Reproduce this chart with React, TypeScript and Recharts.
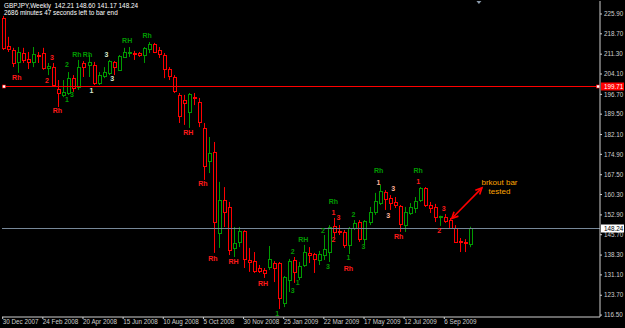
import { Bar, ComposedChart, ReferenceDot, ReferenceLine, XAxis, YAxis } from "recharts";

// weekly GBPJPY candles, 30 Dec 2007 .. Oct 2009
const openP = [
  224.4, 214.3, 212.8, 208.5, 211.7, 209.6, 208.5, 211.0, 211.7, 206.3,
  206.6, 198.7, 196.5, 197.2, 202.6, 199.4, 208.1, 207.4, 207.4, 200.8,
  203.4, 204.5, 208.5, 205.6, 210.3, 211.7, 211.7, 211.7, 211.0, 213.2,
  215.0, 212.8, 211.0, 205.9, 203.0, 196.5, 194.7, 190.3, 195.7, 193.9,
  184.5, 172.5, 175.8, 146.3, 158.3, 155.8, 140.9, 143.1, 147.1, 136.5,
  136.1, 133.6, 132.9, 134.0, 135.4, 135.4, 120.9, 129.2, 136.5, 130.3,
  134.7, 139.1, 138.7, 136.5, 138.3, 139.4, 148.9, 147.1, 146.7, 142.0,
  148.1, 150.3, 144.1, 150.3, 154.0, 157.2, 161.2, 159.0, 157.6, 156.1,
  149.2, 153.6, 155.4, 158.3, 162.7, 156.5, 155.8, 152.3, 152.1, 151.0,
  148.1, 143.4, 143.1, 142.21,
];
const highP = [
  225.2, 217.6, 213.6, 213.9, 213.6, 212.1, 213.9, 212.1, 213.6, 208.1,
  208.1, 201.9, 201.9, 204.8, 203.7, 209.2, 208.8, 211.0, 208.5, 204.8,
  206.6, 209.2, 208.8, 211.0, 213.6, 213.9, 212.5, 212.1, 213.9, 215.7,
  215.4, 213.9, 211.7, 206.6, 203.7, 197.2, 196.5, 197.2, 197.2, 195.4,
  186.3, 181.2, 179.4, 164.9, 163.0, 157.6, 148.5, 148.5, 147.3, 140.9,
  139.4, 134.7, 133.6, 141.6, 136.1, 135.8, 130.7, 136.9, 137.6, 135.8,
  142.0, 141.2, 139.1, 139.8, 145.6, 149.2, 151.8, 149.2, 147.4, 148.5,
  151.0, 151.0, 151.0, 155.8, 160.9, 163.8, 161.9, 160.1, 159.4, 156.5,
  155.8, 157.2, 159.4, 163.0, 163.0, 157.6, 156.9, 152.6, 153.2, 151.8,
  149.2, 144.5, 144.1, 148.6,
];
const lowP = [
  212.8, 212.1, 206.6, 204.5, 208.1, 205.9, 206.6, 208.1, 205.6, 203.7,
  199.4, 192.1, 195.7, 196.5, 197.6, 198.3, 203.0, 203.0, 200.1, 200.1,
  202.6, 203.7, 203.7, 205.2, 209.9, 210.3, 209.2, 210.3, 208.1, 211.7,
  211.7, 209.9, 202.6, 201.9, 197.2, 186.3, 185.6, 184.5, 192.8, 184.8,
  165.6, 168.1, 139.1, 140.9, 148.5, 138.3, 137.6, 141.2, 133.6, 132.2,
  131.8, 131.8, 130.0, 132.9, 128.5, 118.7, 119.4, 124.9, 128.2, 129.2,
  134.0, 135.4, 131.8, 134.7, 136.5, 135.8, 144.9, 145.6, 140.9, 138.7,
  147.4, 143.1, 142.0, 149.2, 152.9, 156.5, 154.7, 154.7, 155.4, 146.7,
  146.7, 152.9, 153.6, 157.6, 155.8, 153.6, 150.3, 148.9, 150.0, 147.8,
  142.7, 139.4, 139.4, 141.17,
];
const closeP = [
  213.6, 213.2, 208.1, 212.1, 209.2, 208.5, 211.4, 210.6, 206.3, 207.0,
  200.1, 197.2, 197.6, 202.6, 199.0, 206.6, 206.6, 208.5, 200.8, 203.7,
  204.8, 208.8, 206.6, 210.6, 212.1, 212.1, 211.4, 211.0, 213.6, 215.0,
  212.1, 211.4, 205.9, 203.4, 197.9, 188.8, 193.6, 196.8, 195.4, 186.7,
  170.7, 175.4, 150.3, 158.3, 154.0, 140.1, 142.7, 147.1, 136.9, 135.8,
  132.5, 132.6, 131.8, 136.9, 133.6, 122.7, 130.3, 136.1, 132.2, 134.3,
  139.4, 138.3, 136.9, 138.7, 140.5, 148.5, 146.7, 146.7, 142.0, 148.1,
  150.0, 144.1, 150.7, 154.0, 158.0, 161.6, 158.7, 157.2, 156.5, 149.6,
  154.0, 155.8, 158.0, 162.7, 156.5, 155.4, 152.1, 152.5, 150.7, 148.1,
  143.1, 143.1, 142.7, 148.24,
];

const dateTicks = [0, 8, 16, 24, 32, 40, 48, 56, 64, 72, 80, 88];
const dateLabels = [
  "30 Dec 2007", "24 Feb 2008", "20 Apr 2008", "15 Jun 2008", "10 Aug 2008", "5 Oct 2008",
  "30 Nov 2008", "25 Jan 2009", "22 Mar 2009", "17 May 2009", "12 Jul 2009", "6 Sep 2009",
];
const priceTicks = [
  225.9, 218.7, 211.3, 204.1, 196.7, 189.5, 182.1, 174.9, 167.5, 160.3, 152.9, 145.7, 138.3, 131.1, 123.7, 116.5,
];

const breakoutLevel = 199.71;
const bidLevel = 148.24;

// swing labels: text, bar position, price, colour key
const markTexts = [
  "Rh", "3", "2", "Rh", "2", "Rh", "Rh", "1", "3", "1", "3", "3", "RH", "Rh", "RH",
  "Rh", "Rh", "RH", "RH", "1", "2", "RH", "1", "3", "2", "3", "Rh", "1", "3", "2",
  "2", "1", "3", "Rh", "Rh", "1", "3", "3", "Rh", "Rh", "1", "3", "2",
];
const markBars = [
  2.8, 9.8, 8.8, 10.9, 12.8, 14.8, 16.9, 12.8, 13.8, 17.7, 20.7, 21.8, 24.8, 28.8, 37.0,
  39.9, 41.9, 46.0, 51.9, 54.7, 57.8, 59.9, 58.8, 57.8, 63.8, 64.8, 65.9, 65.9, 66.9, 65.9,
  69.9, 68.9, 71.9, 68.9, 74.9, 74.9, 77.8, 76.8, 78.9, 82.8, 82.8, 87.9, 87.0,
];
const markPrices = [
  202.8, 210.2, 201.7, 190.8, 207.4, 211.3, 211.3, 195.0, 196.5, 198.0, 211.3, 202.4, 216.1, 218.0, 182.8,
  164.2, 137.2, 135.9, 128.0, 116.9, 139.5, 143.9, 128.2, 125.6, 147.4, 134.1, 157.6, 153.8, 152.0, 144.0,
  153.1, 137.3, 141.3, 133.6, 168.9, 164.7, 162.5, 152.5, 145.1, 169.2, 165.2, 155.4, 147.4,
];
const markTones = [
  "r", "r", "r", "r", "g", "g", "g", "g", "g", "w", "w", "w", "g", "g", "r",
  "r", "r", "r", "r", "g", "g", "g", "g", "g", "g", "g", "g", "r", "r", "r",
  "g", "g", "g", "r", "g", "p", "p", "p", "r", "g", "r", "r", "r",
];

const noteLines = ["brkout bar", "tested"];
const notePos = { bar: 99, price: 164.9 };
const arrowEnds = [
  { x: 89.5, y: 151.6 },
  { x: 95.5, y: 162.7 },
];

const GREEN = "#009a00";
const RED = "#ff0000";
const AXIS = "#cfcfcf";
const toneColor: Record<string, string> = { r: "#ff1a1a", g: "#009a00", w: "#d8e8cc", p: "#ffb49a" };
const FONT = "'Liberation Sans', Arial, sans-serif";

const candles = openP.map((o, i) => ({
  i,
  o,
  h: highP[i],
  l: lowP[i],
  c: closeP[i],
  range: [lowP[i], highP[i]],
}));

function Candle(props: any) {
  const { x, y, width, height, payload } = props;
  if (x == null || !payload) return null;
  const top = Math.min(y, y + height);
  const span = Math.abs(height);
  const unit = span / (payload.h - payload.l);
  const yOf = (p: number) => top + (payload.h - p) * unit;
  const cx = Math.round(x + width / 2);
  const color = payload.c >= payload.o ? GREEN : RED;
  const bTop = Math.round(yOf(Math.max(payload.o, payload.c)));
  const bBot = Math.round(yOf(Math.min(payload.o, payload.c)));
  return (
    <g>
      <line x1={cx + 0.5} x2={cx + 0.5} y1={top} y2={top + span} stroke={color} />
      <rect x={cx - 0.5} y={bTop + 0.5} width={3} height={Math.max(1, bBot - bTop)} fill="#000" stroke={color} />
    </g>
  );
}

function DateTick(props: any) {
  const { x, y, payload } = props;
  const k = dateTicks.indexOf(payload.value);
  return (
    <text x={x} y={y + 4} fill={AXIS} fontSize={6.3} fontFamily={FONT} textAnchor="start">
      {dateLabels[k]}
    </text>
  );
}

function PriceTick(props: any) {
  const { x, y, payload } = props;
  return (
    <text x={x} y={y + 2.2} fill={AXIS} fontSize={6.3} fontFamily={FONT} textAnchor="start">
      {payload.value.toFixed(2)}
    </text>
  );
}

function LevelLine(props: any) {
  const { x1, x2, y1, color, boxFill, boxText, text, marks } = props;
  const left = Math.min(x1, x2);
  const right = Math.max(x1, x2);
  const yy = Math.round(y1) + 0.5;
  return (
    <g>
      <line x1={left} x2={right} y1={yy} y2={yy} stroke={color} strokeWidth={1} />
      {marks && (
        <>
          <rect x={left + 0.5} y={yy - 1.5} width={3} height={3} fill="#fff" stroke={color} strokeWidth={0.6} />
          <rect x={right - 3.5} y={yy - 1.5} width={3} height={3} fill="#fff" stroke={color} strokeWidth={0.6} />
        </>
      )}
      <rect x={right + 1} y={yy - 4} width={23} height={8} fill={boxFill} />
      <text x={right + 4} y={yy + 2.3} fill={boxText} fontSize={6.3} fontFamily={FONT}>
        {text}
      </text>
    </g>
  );
}

function Arrow(props: any) {
  const { x1, y1, x2, y2 } = props;
  const ang = Math.atan2(y2 - y1, x2 - x1);
  const head = (px: number, py: number, a: number) => {
    const l = 7;
    const s = 0.45;
    return `M${px + l * Math.cos(a + s)},${py + l * Math.sin(a + s)} L${px},${py} L${px + l * Math.cos(a - s)},${py + l * Math.sin(a - s)}`;
  };
  return (
    <g stroke={RED} strokeWidth={1.6} fill="none">
      <line x1={x1} y1={y1} x2={x2} y2={y2} />
      <path d={head(x1, y1, ang)} />
      <path d={head(x2, y2, ang + Math.PI)} />
    </g>
  );
}

export default function App() {
  const last = candles[candles.length - 1];
  return (
    <div style={{ position: "fixed", left: 0, top: 0, width: 625, height: 328, background: "#000", overflow: "hidden" }}>
      <ComposedChart width={625} height={328} data={candles} margin={{ top: 1, right: 0, bottom: 0, left: 2 }}>
        <XAxis
          type="number"
          dataKey="i"
          domain={[-0.14, 119.03]}
          allowDataOverflow
          ticks={dateTicks}
          interval={0}
          height={11}
          tickSize={2}
          tickMargin={1}
          axisLine={{ stroke: AXIS }}
          tickLine={{ stroke: AXIS }}
          tick={<DateTick />}
        />
        <XAxis xAxisId="top" orientation="top" type="number" dataKey="i" domain={[-0.14, 119.03]} allowDataOverflow height={0} tick={false} tickLine={false} axisLine={{ stroke: AXIS }} />
        <YAxis
          orientation="right"
          domain={[115.8, 230.62]}
          allowDataOverflow
          ticks={priceTicks}
          interval={0}
          width={25}
          tickSize={2}
          tickMargin={2}
          axisLine={{ stroke: AXIS }}
          tickLine={{ stroke: AXIS }}
          tick={<PriceTick />}
        />
        <YAxis yAxisId="left" orientation="left" domain={[115.8, 230.62]} width={0} tick={false} tickLine={false} axisLine={{ stroke: AXIS }} />
        <ReferenceLine
          y={bidLevel}
          shape={(p: any) => <LevelLine {...p} color="#778899" boxFill="#fff" boxText="#000" text={bidLevel.toFixed(2)} />}
        />
        <Bar dataKey="range" barSize={4} isAnimationActive={false} shape={(p: any) => <Candle {...p} />} />
        <ReferenceLine
          y={breakoutLevel}
          shape={(p: any) => <LevelLine {...p} color={RED} boxFill={RED} boxText="#fff" text={breakoutLevel.toFixed(2)} marks />}
        />
        {markTexts.map((t, k) => (
          <ReferenceDot
            key={k}
            x={markBars[k]}
            y={markPrices[k]}
            r={0}
            shape={(p: any) => (
              <text x={p.cx} y={p.cy + 2.5} textAnchor="middle" fontSize={7} fontWeight="bold" fontFamily={FONT} fill={toneColor[markTones[k]]}>
                {t}
              </text>
            )}
          />
        ))}
        <ReferenceLine segment={arrowEnds} shape={(p: any) => <Arrow {...p} />} />
        <ReferenceDot
          x={notePos.bar}
          y={notePos.price}
          r={0}
          shape={(p: any) => (
            <text x={p.cx} y={p.cy + 2.8} textAnchor="middle" fontSize={8} fontFamily={FONT} fill="#ffa500">
              <tspan x={p.cx}>{noteLines[0]}</tspan>
              <tspan x={p.cx} dy={9.5}>
                {noteLines[1]}
              </tspan>
            </text>
          )}
        />
        <ReferenceDot
          x={94.9}
          y={230.62}
          r={0}
          ifOverflow="visible"
          shape={(p: any) => <path d={`M${p.cx - 2.5},${p.cy} L${p.cx + 2.5},${p.cy} L${p.cx},${p.cy + 3} Z`} fill="#8a9aaa" />}
        />
      </ComposedChart>
      <div
        style={{
          position: "absolute",
          left: 4,
          top: 2,
          color: "#fff",
          fontFamily: FONT,
          fontSize: 6.4,
          lineHeight: "7px",
          whiteSpace: "pre",
        }}
      >
        <div>{`GBPJPY,Weekly  ${last.o.toFixed(2)} ${last.h.toFixed(2)} ${last.l.toFixed(2)} ${last.c.toFixed(2)}`}</div>
        <div>2686 minutes 47 seconds left to bar end</div>
      </div>
    </div>
  );
}
